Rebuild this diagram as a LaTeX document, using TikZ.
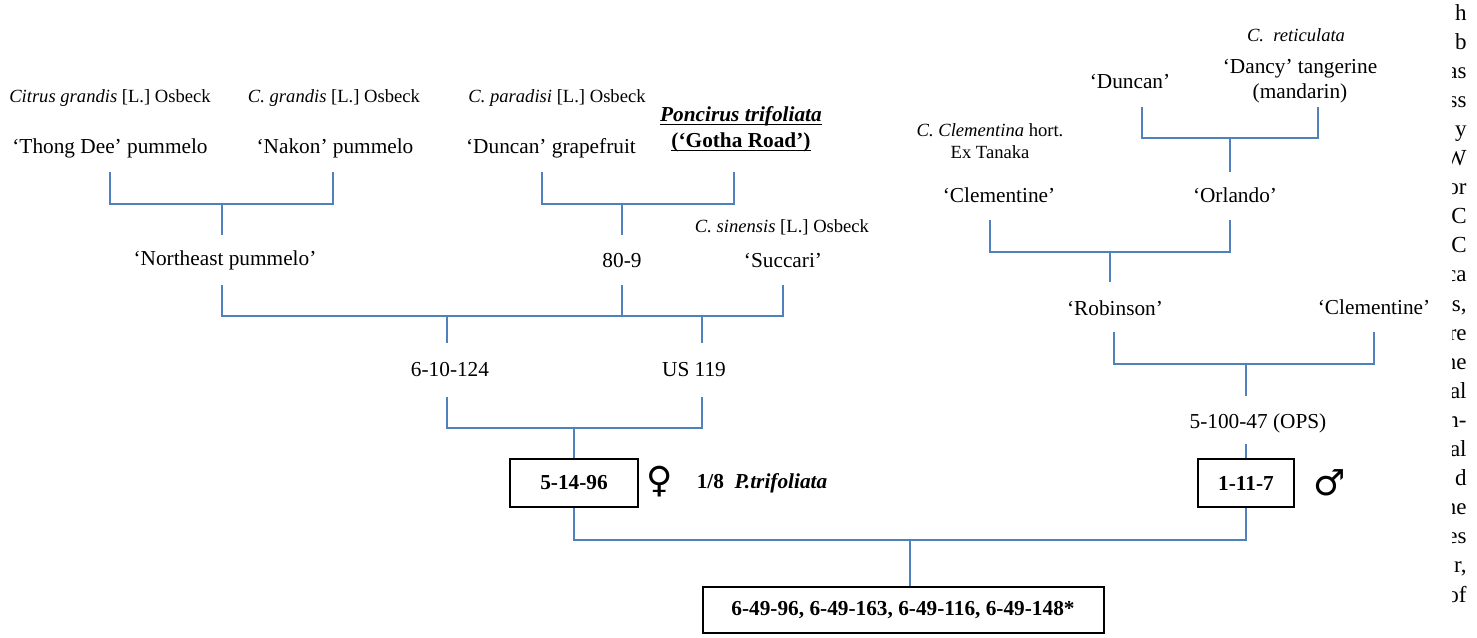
\documentclass[tikz,border=0pt]{standalone}
\usepackage{fontspec}
\setmainfont{Liberation Serif}
\newfontfamily\symfont{DejaVu Sans}
\usepackage{amsmath}
\usetikzlibrary{calc}
\definecolor{linkblue}{RGB}{79,129,189}

\begin{document}
\begin{tikzpicture}[x=0.5pt, y=-0.5pt,
  lbl/.style={font=\fontsize{10.65}{12.5}\selectfont, inner sep=0pt, align=center},
  spc/.style={font=\fontsize{9.3}{11}\selectfont, inner sep=0pt, align=center},
  clone/.style={draw, line width=1pt, font=\fontsize{10.65}{12.5}\selectfont\bfseries, inner sep=0pt},
  link/.style={linkblue, line width=1pt},
  sex/.style={font=\symfont\fontsize{18}{18}\selectfont, inner sep=0pt}]

\useasboundingbox (0,0) rectangle (1477,637);

% Pummelo parents
\node[spc] (sp1) at (110,98) {\textit{Citrus grandis} [L.] Osbeck};
\node[spc] (sp2) at (334,98) {\textit{C. grandis} [L.] Osbeck};
\node[lbl] (thong) at (110,148) {‘Thong Dee’ pummelo};
\node[lbl] (nakon) at (335,148) {‘Nakon’ pummelo};
\node[lbl] (northeast) at (225,260) {‘Northeast pummelo’};

% Grapefruit x trifoliate
\node[spc] (sp3) at (557,98) {\textit{C. paradisi} [L.] Osbeck};
\node[lbl] (duncan) at (551,148) {‘Duncan’ grapefruit};
\node[lbl, font=\fontsize{10.65}{13}\selectfont] (poncirus) at (741,129)
  {\underline{\smash[b]{\textbf{\textit{Poncirus trifoliata}}}}\\\underline{\smash[b]{\textbf{(‘Gotha Road’)}}}};
\node[lbl] (cross809) at (622,261) {80-9};
\node[spc] (sp4) at (782,227) {\textit{C. sinensis} [L.] Osbeck};
\node[lbl] (succari) at (783,261) {‘Succari’};

% Seed parent
\node[lbl] (h6) at (450,370) {6-10-124};
\node[lbl] (us119) at (694,370) {US 119};
\node[clone, minimum width=64pt, minimum height=24pt] (f51496) at (574,483) {5-14-96};
\node[sex] (venus) at (660,482) {♀};
\node[lbl] (ratio) at (762,483) {\textbf{1/8}\hspace{0.5em}\textbf{\textit{P.trifoliata}}};

% Mandarin side
\node[spc] (sp5) at (1296,35) {\textit{C.\ \ reticulata}};
\node[lbl] (dancy) at (1300,81) {‘Dancy’ tangerine\\(mandarin)};
\node[lbl] (duncan2) at (1130,82) {‘Duncan’};
\node[spc] (sp6) at (990,141) {\textit{C. Clementina} hort.\\Ex Tanaka};
\node[lbl] (clem1) at (999,195) {‘Clementine’};
\node[lbl] (orlando) at (1235,195) {‘Orlando’};
\node[lbl] (robinson) at (1115,308) {‘Robinson’};
\node[lbl] (clem2) at (1374,307) {‘Clementine’};
\node[lbl] (ops) at (1258,423) {5-100-47 (OPS)};
\node[clone, minimum width=48pt, minimum height=24pt] (m1117) at (1246,483) {1-11-7};
\node[sex] (mars) at (1330,483) {♂};

% Offspring
\node[clone, minimum width=200.5pt, minimum height=23pt] (offspring) at (903,610)
  {6-49-96, 6-49-163, 6-49-116, 6-49-148*};

% Junctions
\coordinate (j1) at (222,204);
\coordinate (j2) at (622,204);
\coordinate (j3) at (447,316);
\coordinate (j3b) at (702,316);
\coordinate (j4) at (574,428);
\coordinate (j5) at (1230,138);
\coordinate (j6) at (1110,252);
\coordinate (j7) at (1246,364);
\coordinate (j9) at (910,540);

% Links
\draw[link] ($(thong)+(0,24)$) |- (j1) -| ($(nakon)+(-2,24)$);
\draw[link] (j1) -- ($(northeast)+(-3,-25)$);
\draw[link] ($(duncan)+(-9,24)$) |- (j2) -| ($(poncirus)+(-7,43)$);
\draw[link] (j2) -- ($(cross809)+(0,-26)$);
\draw[link] ($(northeast)+(-3,25)$) |- (j3) -- (j3b) -| ($(succari)+(0,24)$);
\draw[link] ($(cross809)+(0,24)$) -- (cross809 |- j3);
\draw[link] (j3) -- ($(h6)+(-3,-27)$);
\draw[link] (j3b) -- ($(us119)+(8,-27)$);
\draw[link] ($(h6)+(-3,27)$) |- (j4) -| ($(us119)+(8,27)$);
\draw[link] (j4) -- (f51496.north);

\draw[link] ($(duncan2)+(12,25)$) |- (j5) -| ($(dancy)+(18,26)$);
\draw[link] (j5) -- ($(orlando)+(-5,-23)$);
\draw[link] ($(clem1)+(-9,25)$) |- (j6) -| ($(orlando)+(-5,25)$);
\draw[link] (j6) -- ($(robinson)+(-5,-26)$);
\draw[link] ($(robinson)+(-1,24)$) |- (j7) -| ($(clem2)+(0,25)$);
\draw[link] (j7) -- ($(ops)+(-12,-27)$);
\draw[link] ($(ops)+(-12,21)$) -- (m1117.north);

\draw[link] (f51496.south) |- (j9) -| (m1117.south);
\draw[link] (j9) -- (j9 |- offspring.north);

% Cut-off text at the right edge
\begin{scope}
\clip (1452,0) rectangle (1477,637);
\foreach \w [count=\i from 0] in {h,b,as,ss,y,W,or,C,C,ca,{s,},re,ne,al,n-,al,d,ne,es,{r,},of}
  \node[anchor=base east, inner sep=0pt, font=\fontsize{11.5}{13}\selectfont] at (1467,20+29.1*\i) {\w};
\end{scope}

\end{tikzpicture}
\end{document}
